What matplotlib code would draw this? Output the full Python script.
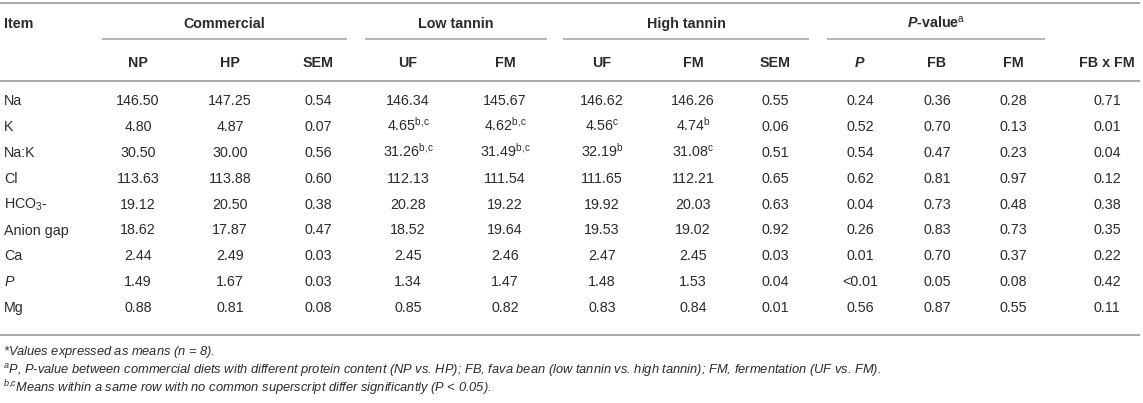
import matplotlib
matplotlib.use("Agg")
import matplotlib.pyplot as plt

plt.rcParams['font.family'] = ['Liberation Sans', 'DejaVu Sans']
plt.rcParams['mathtext.fontset'] = 'custom'
plt.rcParams['mathtext.rm'] = 'Liberation Sans'
plt.rcParams['mathtext.it'] = 'Liberation Sans:italic'
plt.rcParams['mathtext.bf'] = 'Liberation Sans:bold'
plt.rcParams['mathtext.bfit'] = 'Liberation Sans:italic:bold'

# table data
items = ["Na", "K", "Na:K", "Cl", "HCO$_3$-", "Anion gap", "Ca", "$\\mathit{P}$", "Mg"]
com_np = ["146.50", "4.80", "30.50", "113.63", "19.12", "18.62", "2.44", "1.49", "0.88"]
com_hp = ["147.25", "4.87", "30.00", "113.88", "20.50", "17.87", "2.49", "1.67", "0.81"]
com_sem = ["0.54", "0.07", "0.56", "0.60", "0.38", "0.47", "0.03", "0.03", "0.08"]
low_uf = ["146.34", "4.65", "31.26", "112.13", "20.28", "18.52", "2.45", "1.34", "0.85"]
low_fm = ["145.67", "4.62", "31.49", "111.54", "19.22", "19.64", "2.46", "1.47", "0.82"]
high_uf = ["146.62", "4.56", "32.19", "111.65", "19.92", "19.53", "2.47", "1.48", "0.83"]
high_fm = ["146.26", "4.74", "31.08", "112.21", "20.03", "19.02", "2.45", "1.53", "0.84"]
high_sem = ["0.55", "0.06", "0.51", "0.65", "0.63", "0.92", "0.03", "0.04", "0.01"]
pv_p = ["0.24", "0.52", "0.54", "0.62", "0.04", "0.26", "0.01", "<0.01", "0.56"]
pv_fb = ["0.36", "0.70", "0.47", "0.81", "0.73", "0.83", "0.70", "0.05", "0.87"]
pv_fm = ["0.28", "0.13", "0.23", "0.97", "0.48", "0.73", "0.37", "0.08", "0.55"]
pv_fbxfm = ["0.71", "0.01", "0.04", "0.12", "0.38", "0.35", "0.22", "0.42", "0.11"]

# superscripts (row index -> letters)
sup_low_uf = {1: "b{,}c", 2: "b{,}c"}
sup_low_fm = {1: "b{,}c", 2: "b{,}c"}
sup_high_uf = {1: "c", 2: "b"}
sup_high_fm = {1: "b", 2: "c"}

sub_headers = ["NP", "HP", "SEM", "UF", "FM", "UF", "FM", "SEM",
               "$\\mathbfit{P}$", "FB", "FM", "FB x FM"]
groups = ["Commercial", "Low tannin", "High tannin", "$\\mathbfit{P}$-value$^{\\mathrm{a}}$"]

footnotes = [
    "*Values expressed as means ($\\mathit{n}$ = 8).",
    "$^{\\mathit{a}}$P, P-value between commercial diets with different protein content (NP vs. HP); "
    "FB, fava bean (low tannin vs. high tannin); FM, fermentation (UF vs. FM).",
    "$^{\\mathit{b{,}c}}$Means within a same row with no common superscript differ significantly (P < 0.05).",
]

columns = [com_np, com_hp, com_sem, low_uf, low_fm, high_uf, high_fm, high_sem,
           pv_p, pv_fb, pv_fm, pv_fbxfm]
sups = [{}, {}, {}, sup_low_uf, sup_low_fm, sup_high_uf, sup_high_fm, {}, {}, {}, {}, {}]

# layout in pixels
col_x = [138, 230, 318, 408, 505, 602, 693, 775, 860, 937, 1013, 1107]
group_spans = [(102, 347), (365, 547), (563, 809), (827, 1045)]
row_y0 = 100
row_dy = 25.9
fs = 10.3
txt = "#2b2b2b"
line_c = "#a8a8a8"

fig = plt.figure(figsize=(11.43, 4.03), dpi=100)
ax = fig.add_axes([0, 0, 1, 1])
ax.set_xlim(0, 1143)
ax.set_ylim(403, 0)
ax.axis("off")

# rules
ax.hlines([3, 80.5, 335], 0, 1140, color=line_c, lw=1.4)
for x0, x1 in group_spans:
    ax.hlines(39, x0, x1, color=line_c, lw=1.2)

# header
ax.text(4, 28, "Item", fontsize=fs, fontweight="bold", color=txt, va="baseline")
for (x0, x1), g in zip(group_spans, groups):
    ax.text((x0 + x1) / 2, 28, g, fontsize=fs, fontweight="bold", color=txt,
            ha="center", va="baseline")
for x, h in zip(col_x, sub_headers):
    ax.text(x, 67, h, fontsize=fs, fontweight="bold", color=txt, ha="center", va="baseline")

# body
for i, name in enumerate(items):
    yb = row_y0 + i * row_dy + 5
    ax.text(4, yb, name, fontsize=fs, color=txt, va="baseline")
    for x, col, sp in zip(col_x, columns, sups):
        s = col[i]
        if i in sp:
            s = s + "$^{\\mathrm{" + sp[i] + "}}$"
        ax.text(x, yb, s, fontsize=fs, color=txt, ha="center", va="baseline")

# footnotes
for k, fn in enumerate(footnotes):
    ax.text(3, 355 + k * 18.5, fn, fontsize=9.3, fontstyle="italic", color=txt, va="baseline")

fig.savefig("out.png", dpi=100)
